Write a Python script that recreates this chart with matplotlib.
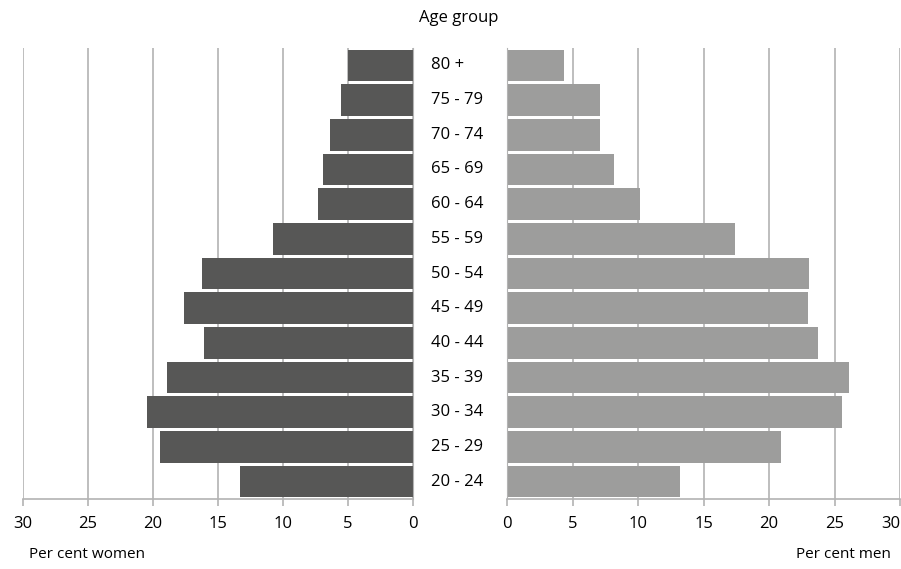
import matplotlib
matplotlib.use("Agg")
import matplotlib.pyplot as plt
import numpy as np

plt.rcParams['font.family'] = ['Open Sans', 'DejaVu Sans']

age_groups = ["20 - 24", "25 - 29", "30 - 34", "35 - 39", "40 - 44", "45 - 49", "50 - 54",
              "55 - 59", "60 - 64", "65 - 69", "70 - 74", "75 - 79", "80 +"]
women = [13.3, 19.45, 20.45, 18.9, 16.05, 17.6, 16.2, 10.75, 7.3, 6.9, 6.35, 5.5, 4.95]
men = [13.2, 20.9, 25.6, 26.1, 23.75, 23.0, 23.05, 17.4, 10.15, 8.15, 7.1, 7.1, 4.35]
ticks = [0, 5, 10, 15, 20, 25, 30]

W, H = 901, 569
fig = plt.figure(figsize=(W / 100, H / 100), dpi=100)

bottom = (H - 499) / H
top = (H - 48) / H
axL = fig.add_axes([23 / W, bottom, (412.5 - 23) / W, top - bottom])
axR = fig.add_axes([507 / W, bottom, (900 - 507) / W, top - bottom])

y = np.arange(len(age_groups))
grid_c = "#b3b3b3"
fs = 12
for ax, vals, col in [(axL, women, "#575756"), (axR, men, "#9d9d9c")]:
    ax.set_axisbelow(True)
    ax.barh(y, vals, height=0.91, color=col, zorder=2)
    ax.set_xlim(0, 30)
    ax.set_ylim(-0.5, len(age_groups) - 0.5)
    ax.set_xticks(ticks)
    ax.set_xticklabels([str(t) for t in ticks], fontsize=fs)
    ax.set_yticks([])
    ax.grid(axis="x", color=grid_c, linewidth=1.2)
    for s in ["top", "left", "right"]:
        ax.spines[s].set_visible(False)
    ax.spines["bottom"].set_color(grid_c)
    ax.spines["bottom"].set_linewidth(1.2)
    ax.tick_params(axis="x", length=5, color=grid_c, width=1.2, pad=7, labelcolor="black")

axL.invert_xaxis()
axL.spines["right"].set_visible(True)
axL.spines["right"].set_color(grid_c)
axR.spines["left"].set_visible(True)
axR.spines["left"].set_color(grid_c)
axR.get_xticklabels()[-1].set_horizontalalignment("right")

for yi, lab in zip(y, age_groups):
    axR.text(-76 / 13.1, yi, lab, ha="left", va="center", fontsize=fs, clip_on=False)

fig.text(459 / W, 1 - 18 / H, "Age group", ha="center", va="center", fontsize=fs)
fig.text(87 / W, 1 - 555 / H, "Per cent women", ha="center", va="center", fontsize=11)
fig.text(843 / W, 1 - 555 / H, "Per cent men", ha="center", va="center", fontsize=11)

fig.savefig("out.png", dpi=100)
